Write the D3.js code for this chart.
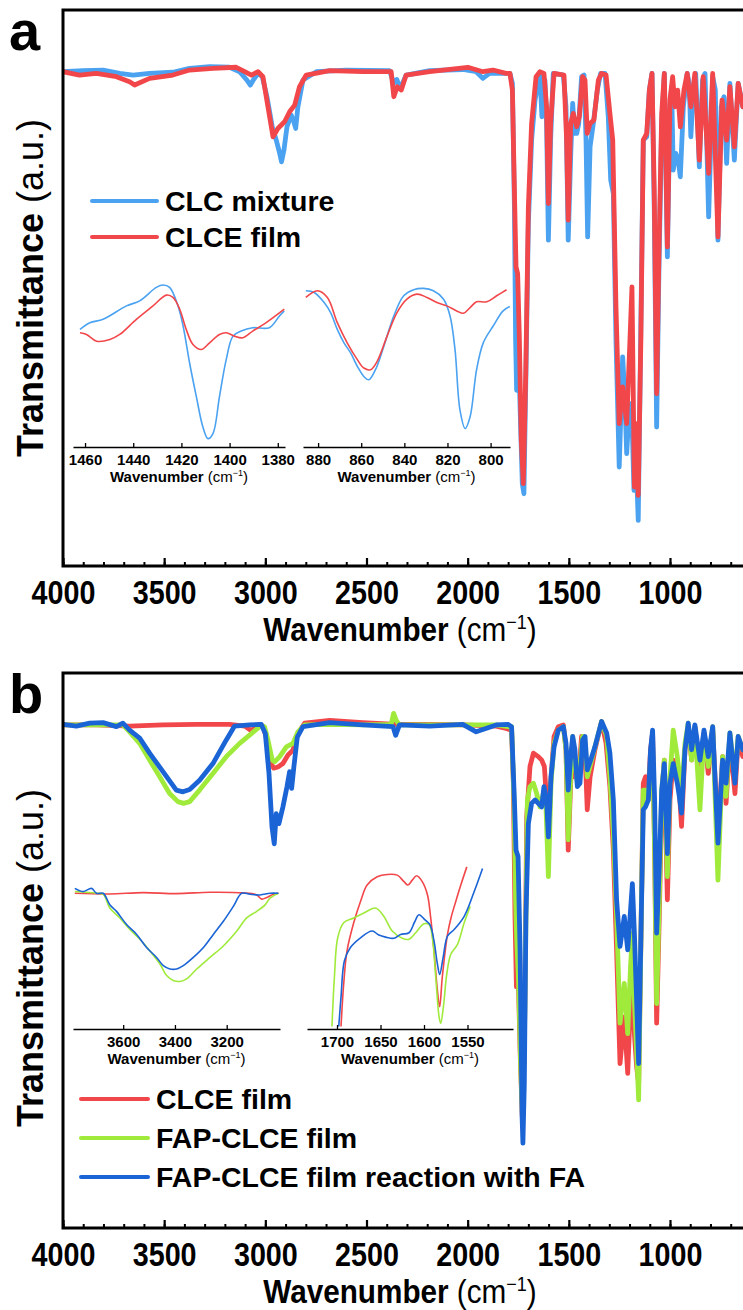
<!DOCTYPE html>
<html>
<head>
<meta charset="utf-8">
<script src="https://cdn.jsdelivr.net/npm/d3@7"></script>
<style>
body{margin:0;background:#fff;}
svg{display:block;}
text{font-family:"Liberation Sans",Arial,sans-serif;fill:#000;}
</style>
</head>
<body>
<script>
// ---- data (wavenumber cm-1, transmittance a.u.) ----
var mainTicks = [4000, 3500, 3000, 2500, 2000, 1500, 1000];

var aMixture = [[4000,88.9],[3901,89.1],[3802,89.2],[3720,88.6],[3654,88.3],[3572,88.6],[3457,88.8],[3374,89.5],[3275,89.8],[3177,89.7],[3127,88.9],[3091,87.4],[3074,86.5],[3058,87.5],[3036,88.6],[3015,88],[2992,84.4],[2966,79],[2946,76.6],[2929,74.2],[2920,72.7],[2908,74.8],[2893,79],[2872,81.1],[2859,79.9],[2850,78.7],[2839,82.6],[2814,87.4],[2748,88.9],[2600,89.2],[2386,89.1],[2365,86.8],[2350,87.5],[2333,85.9],[2304,88.3],[2188,89.1],[2024,89.3],[1958,88.9],[1925,87.7],[1892,88.6],[1810,88.6],[1791,88.6],[1779,86.8],[1769,64.6],[1763,40.6],[1758,31.6],[1751,42.4],[1741,28.6],[1730,14.8],[1722,13],[1712,34.6],[1700,61.6],[1684,76.6],[1667,83.8],[1643,88.6],[1633,80.8],[1618,87.4],[1610,79.6],[1601,58.6],[1590,76.6],[1577,88.6],[1527,88.3],[1514,82.6],[1503,58.6],[1491,73.6],[1481,83.2],[1471,77.8],[1461,77.8],[1451,79.6],[1437,88],[1425,88.3],[1415,76.6],[1407,59.2],[1395,75.4],[1379,79.6],[1359,85.6],[1343,88.6],[1321,88.6],[1305,80.8],[1293,69.4],[1280,67],[1267,40.6],[1251,17.8],[1234,37.6],[1224,31],[1214,20.2],[1201,28.6],[1190,29.2],[1178,13.6],[1168,19.6],[1157,8.2],[1145,40.6],[1132,76.6],[1115,77.2],[1102,85.6],[1089,88.6],[1078,64.6],[1066,25],[1055,52.6],[1041,79.6],[1028,88.6],[1013,55.6],[1000,82.6],[992,86.2],[984,71.2],[971,74.2],[959,73],[949,70],[934,82.6],[915,88.6],[905,86.8],[897,77.2],[885,85.6],[873,88.6],[855,71.8],[839,87.4],[827,88.6],[809,62.8],[789,88],[776,85.6],[763,58.6],[747,82.6],[733,84.4],[720,72.4],[704,86.8],[682,73],[663,86.8],[640,82.6],[610,85]];

var aFilm = [[4000,88.9],[3918,88.3],[3835,88.6],[3736,88],[3671,87.1],[3646,86.5],[3572,87.7],[3457,88.3],[3374,89.2],[3259,89.5],[3144,89.7],[3102,88.9],[3069,88.3],[3036,88.9],[3012,88],[2987,82.6],[2962,77.2],[2938,78.7],[2905,79.9],[2880,81.7],[2855,82.9],[2831,86.2],[2798,88.3],[2682,89.1],[2518,88.9],[2378,88.9],[2365,84.4],[2348,86.2],[2328,85.6],[2304,88.3],[2188,88.9],[1999,89.7],[1925,88.9],[1875,89.2],[1810,88.6],[1791,88.6],[1779,85.6],[1769,67.6],[1761,53.8],[1753,52.6],[1745,41.8],[1735,22.6],[1725,14.8],[1713,34.6],[1700,64.6],[1684,79.6],[1662,88],[1643,88.9],[1623,88.6],[1610,82.6],[1601,65.2],[1590,79.6],[1573,88.6],[1524,88.3],[1511,76.6],[1503,62.2],[1491,79.6],[1478,81.4],[1461,79],[1448,80.8],[1432,88],[1420,87.4],[1409,77.8],[1395,79.6],[1376,80.2],[1354,87.4],[1338,88.6],[1316,88.3],[1297,81.4],[1283,76.6],[1267,46.6],[1251,25.6],[1234,32.2],[1214,25.6],[1198,40.6],[1188,50.2],[1176,14.2],[1168,25.6],[1157,12.7],[1144,40.6],[1132,76.6],[1115,77.8],[1102,85.6],[1089,88.6],[1078,67.6],[1066,31],[1055,55.6],[1041,81.4],[1028,88.6],[1013,57.4],[1000,83.8],[987,88],[975,82.6],[962,85.6],[949,79],[931,85.6],[915,88.6],[897,82.6],[877,88.6],[855,73],[836,88],[809,70.6],[789,88.6],[763,59.2],[743,83.8],[720,76.6],[704,86.2],[682,75.4],[663,86.8],[640,82.6],[610,86]];

var bFilm = [[4000,91],[3835,91],[3671,90.8],[3506,91],[3341,91.1],[3177,91.1],[3102,90.8],[3069,90],[3036,91],[3012,90.8],[2992,88.4],[2971,84.3],[2959,83.5],[2938,83.7],[2913,84.3],[2888,85.8],[2864,86.6],[2839,89.5],[2806,91.3],[2682,91.8],[2518,91.4],[2353,91.1],[2188,91.1],[2024,91],[1859,90.8],[1810,90.4],[1783,90.1],[1774,80.9],[1766,57.8],[1759,45.6],[1751,49.1],[1741,34.6],[1730,23.1],[1720,34.6],[1708,75.1],[1692,83.8],[1675,86.1],[1651,85.5],[1634,84.9],[1621,83.8],[1610,78],[1601,69.9],[1590,80.9],[1573,89],[1552,90.7],[1527,91],[1514,86.7],[1503,69.3],[1491,80.9],[1481,88.4],[1471,82],[1461,83.2],[1451,82],[1437,89],[1425,88.4],[1415,82],[1409,76.3],[1395,82],[1371,86.7],[1338,91.6],[1316,87.8],[1297,80.3],[1280,69.3],[1264,52],[1247,32.3],[1226,40.4],[1209,30.6],[1195,43.3],[1186,46.2],[1176,37.5],[1165,31.8],[1155,28.9],[1142,57.8],[1132,80.9],[1121,82],[1107,79.7],[1096,86.7],[1086,89.6],[1076,69.3],[1066,39.3],[1053,57.8],[1041,78],[1028,84.9],[1013,60.7],[1000,78],[984,84.9],[964,82],[954,79.7],[943,73.4],[926,86.7],[910,90.7],[893,84.9],[877,90.7],[852,82.6],[832,89.6],[811,82.6],[789,90.1],[763,71.6],[740,85.5],[723,77.4],[704,88.4],[679,79.1],[663,88.4],[640,85.5],[610,87]];

var bFapFilm = [[4000,91],[3835,91],[3704,91],[3671,89.8],[3621,87.8],[3572,84.9],[3522,82],[3473,79.1],[3432,77.7],[3404,77.4],[3374,77.7],[3325,79.7],[3259,82.6],[3193,85.5],[3127,87.8],[3069,89.5],[3028,90.7],[3004,90.7],[2987,88.4],[2966,84.9],[2954,84.6],[2929,85.5],[2896,87.2],[2864,87.8],[2839,89.8],[2806,91],[2682,91.1],[2518,91],[2378,91.1],[2366,93],[2353,91.8],[2337,91],[2188,91],[2024,91],[1859,91],[1801,90.7],[1783,90.7],[1771,78],[1763,60.7],[1758,54.3],[1748,46.2],[1738,31.8],[1728,21.9],[1718,40.4],[1705,78],[1692,80.3],[1675,80.9],[1659,79.1],[1643,76.8],[1626,79.1],[1613,76.8],[1601,64.7],[1588,80.9],[1573,87.8],[1552,90.1],[1527,90.7],[1514,86.7],[1503,71.1],[1491,82],[1481,89],[1470,84.9],[1458,80.9],[1445,83.8],[1432,89],[1420,87.8],[1409,82],[1392,84.3],[1371,87.2],[1338,91.6],[1313,89],[1297,82],[1280,72.2],[1264,57.8],[1247,39.3],[1226,46.2],[1209,37.5],[1195,49.1],[1186,54.9],[1176,43.3],[1165,34.6],[1155,26],[1142,57.8],[1132,79.7],[1121,79.7],[1107,78],[1096,84.9],[1086,87.8],[1076,69.3],[1066,42.7],[1053,60.7],[1041,79.7],[1028,84.9],[1013,64.7],[1000,82],[984,90.1],[964,85.5],[943,79.1],[926,87.8],[910,91.3],[893,84.9],[877,90.7],[852,76.3],[832,89.6],[811,83.8],[789,90.7],[763,64.1],[740,85.5],[723,78.6],[704,89.6],[679,82],[663,89],[640,86.7],[610,88]];

var bReacted = [[4000,91.1],[3934,90.8],[3868,91.3],[3802,91.4],[3736,90.7],[3704,91.3],[3671,90.1],[3621,88.7],[3572,86.1],[3506,82.9],[3440,79.7],[3407,79.4],[3374,79.8],[3325,81.4],[3259,84.3],[3193,88.4],[3152,90.8],[3078,91],[3020,91.1],[3000,89.5],[2982,82.6],[2967,73.3],[2956,70.4],[2946,75.6],[2933,73.9],[2913,76.8],[2893,80.3],[2880,82.9],[2870,80],[2859,83.7],[2842,88.9],[2814,90.7],[2682,91.4],[2518,91],[2369,90.7],[2356,89.2],[2337,91],[2188,90.8],[2024,91.1],[1958,89.8],[1859,91],[1801,91.1],[1783,90.7],[1769,78],[1761,69.3],[1751,68.2],[1741,52],[1731,23.1],[1727,18.5],[1720,28.9],[1712,57.8],[1700,73.9],[1684,77.4],[1667,78],[1651,77.4],[1634,76.8],[1623,80.3],[1610,78],[1601,71.6],[1588,82],[1573,87.2],[1552,90.1],[1527,90.7],[1514,87.8],[1503,79.7],[1491,85.5],[1481,89],[1470,86.7],[1458,80.3],[1445,80.9],[1432,88.4],[1420,89],[1409,83.2],[1392,84.9],[1371,87.2],[1338,91.6],[1313,89.6],[1297,86.1],[1280,78],[1264,60.7],[1247,52.6],[1226,57.8],[1209,52],[1195,58.9],[1186,63.5],[1176,54.9],[1165,43.3],[1155,32.3],[1142,57.8],[1132,76.3],[1121,76.8],[1107,78],[1096,86.7],[1086,90.1],[1076,78],[1066,54.9],[1053,66.4],[1041,79.7],[1028,84.3],[1013,68.7],[1000,80.9],[984,84.3],[964,80.9],[954,78.6],[943,75.7],[926,86.7],[910,91.3],[893,86.7],[877,91],[852,84.9],[832,90.1],[811,85.5],[789,90.7],[763,70.5],[740,84.9],[723,80.9],[704,89.6],[679,80.9],[663,89],[640,86.7],[610,88]];

// insets
var insetA1Ticks = [1460, 1440, 1420, 1400, 1380];
var insetA1Mixture = [[1462.1,70],[1458,74],[1452.5,76],[1442.8,84],[1437.3,87],[1430.4,95],[1427.6,96.4],[1424.9,95],[1421.4,84],[1419.3,72],[1416.6,50],[1413.8,30],[1411.1,12],[1409,5],[1406.9,8],[1404.2,30],[1401.4,52],[1398.6,66],[1395.2,69],[1390.4,71],[1383.5,71],[1379.3,78],[1377.3,81]];
var insetA1Film = [[1462.1,68],[1459.4,67],[1455.2,63],[1449.7,64],[1445.6,67],[1438.7,76],[1431.8,84],[1426.2,90.4],[1423.5,89],[1420.7,82],[1418,70],[1415.2,61],[1411.7,58],[1408.3,62],[1404.2,67],[1401.4,68],[1398,66],[1394.5,65],[1390.4,69],[1384.8,74],[1377.3,82]];

var insetA2Ticks = [880, 860, 840, 820, 800];
var insetA2Mixture = [[885.7,93],[881.8,92],[877.2,86],[874.2,80],[871.1,70],[868,62],[864.9,56],[861.8,48],[858.8,42],[856.5,40],[853.4,46],[849.5,60],[844.9,78],[840.3,90],[835.7,93.6],[831.1,94.4],[826.5,93],[821.8,88],[818.8,78],[816.5,58],[814.2,22],[811.8,11],[809.5,18],[806.5,46],[803.4,62],[798.8,72],[794.2,81],[791.1,83.6]];
var insetA2Film = [[885.7,89],[880.3,93],[875.7,89],[871.1,74],[866.5,62],[861.8,52],[858.8,47],[855.7,46],[852.6,51],[848,66],[843.4,80],[838.8,88],[834.2,91],[829.5,89],[824.9,86],[820.3,84],[815.7,81],[812.6,79.6],[809.5,83],[806.5,86.4],[801.8,86.4],[797.2,90],[792.6,93.6]];

var insetB1Ticks = [3600, 3400, 3200];
var insetB1Film = [[3787,80.8],[3651.6,80.4],[3522.6,81.2],[3393.6,80.6],[3264.6,81.4],[3135.6,81],[3084,79.8],[3064.6,77.3],[3045,78.3],[3019.5,80.2],[3000,80.8]];
var insetB1FapFilm = [[3787,81.8],[3703,80.8],[3677,80.2],[3651.6,72],[3613,66.1],[3574,59.2],[3535.5,53.4],[3496.8,46.5],[3458,38.7],[3432,31.8],[3406.5,28.9],[3380.7,28.3],[3355,29.8],[3316,35.7],[3264.6,42.6],[3213,49.4],[3161,58.3],[3122.7,66.1],[3084,70],[3051.7,73.9],[3032.4,77.9],[3000,80.8]];
var insetB1Reacted = [[3787,83.7],[3755,81.8],[3722.6,83.7],[3703,80.8],[3677,80.8],[3651.6,73.9],[3625.8,70],[3587,62.2],[3548,56.3],[3509.7,48.5],[3471,42.6],[3445,37.7],[3419.4,35.7],[3393.6,35.7],[3367.8,37.7],[3329,42.6],[3290,48.5],[3251.7,56.3],[3213,64.1],[3174.3,73],[3142,80.8],[3109.8,80.2],[3071,79.8],[3032.4,80.8],[3000,80.8]];

var insetB2Ticks = [1700, 1650, 1600, 1550];
var insetB2Film = [[1695.4,1.5],[1692.3,26.9],[1688.5,46.5],[1680.8,63.2],[1673,75.9],[1665.4,85.7],[1653.8,90.6],[1642.3,92],[1630.8,91.6],[1623,87.7],[1618.5,85.7],[1613.5,88.6],[1608.5,91.2],[1602,87.7],[1596,79.8],[1592.3,66.1],[1588.5,46.5],[1584.6,23],[1582,13.2],[1579,30.8],[1573,56.3],[1569,66.1],[1563.5,75.9],[1557.7,85.7],[1550.8,96.5]];
var insetB2FapFilm = [[1705.8,1.5],[1703,30.8],[1699.2,54.3],[1692.3,63.2],[1680.8,66.1],[1669.2,69],[1655.8,72],[1646.2,67.1],[1636.5,58.3],[1625,54],[1617.3,53.4],[1609.6,57.3],[1600,62.6],[1594.2,62.2],[1590.4,54.3],[1586.5,30.8],[1582.7,7.3],[1580.8,3.4],[1577.7,13.2],[1573.8,32.8],[1569.2,44.5],[1561.5,50.4],[1553.8,63.2],[1546.9,73]];
var insetB2Reacted = [[1698,1.5],[1695.4,19],[1691.5,40.6],[1684.6,48.5],[1673,54.3],[1659.6,58.3],[1651.9,55.9],[1644.2,54.7],[1634.6,54],[1626.9,56.3],[1617.3,57.3],[1610.8,63.7],[1605.8,68],[1599.2,65.1],[1593,61.8],[1588.5,52.4],[1584.6,38.7],[1582,32.4],[1578,42.6],[1573,55.3],[1565.4,59.2],[1553.8,67.1],[1542.3,81.8],[1532.7,95.5]];

var legendA = ['CLC mixture', 'CLCE film'];
var legendB = ['CLCE film', 'FAP-CLCE film', 'FAP-CLCE film reaction with FA'];

// ---- colours ----
var cBlueA = '#4aa2f0', cRed = '#f2474a', cGreen = '#a0ea3c', cBlueB = '#1b64d6';

var svg = d3.select('body').append('svg').attr('width', 743).attr('height', 1310);

// shared wavenumber axis (plot is cropped on the right)
var x = d3.scaleLinear().domain([4000, 400]).range([63, 63 + 3600 * 607 / 3000]);

var panels = [
  {
    label: 'a', top: 10, bottom: 566, yDomain: [0, 100], yLabelMid: 288,
    series: [{data: aMixture, color: cBlueA}, {data: aFilm, color: cRed}],
    legend: {names: legendA, colors: [cBlueA, cRed], x1: 92, x2: 157, y0: 201, dy: 36},
    insets: [
      {domain: [1465, 1377], range: [73, 285], axisY: 447, ticks: insetA1Ticks,
       series: [{data: insetA1Mixture, color: cBlueA}, {data: insetA1Film, color: cRed}]},
      {domain: [887, 791], range: [303, 510], axisY: 447, ticks: insetA2Ticks,
       series: [{data: insetA2Mixture, color: cBlueA}, {data: insetA2Film, color: cRed}]}
    ]
  },
  {
    label: 'b', top: 673, bottom: 1228, yDomain: [3.8, 100], yLabelMid: 958,
    series: [{data: bFilm, color: cRed}, {data: bFapFilm, color: cGreen}, {data: bReacted, color: cBlueB}],
    legend: {names: legendB, colors: [cRed, cGreen, cBlueB], x1: 81, x2: 148, y0: 1099, dy: 39},
    insets: [
      {domain: [3794, 2994], range: [73, 280], axisY: 1029, ticks: insetB1Ticks,
       series: [{data: insetB1Film, color: cRed}, {data: insetB1FapFilm, color: cGreen}, {data: insetB1Reacted, color: cBlueB}]},
      {domain: [1734.5, 1497.7], range: [307, 513], axisY: 1029, ticks: insetB2Ticks,
       series: [{data: insetB2Film, color: cRed}, {data: insetB2FapFilm, color: cGreen}, {data: insetB2Reacted, color: cBlueB}]}
    ]
  }
];

function wavenumberTitle(sel, size, supSize, supShift) {
  sel.append('tspan').attr('font-weight', 'bold').text('Wavenumber');
  sel.append('tspan').attr('font-weight', 'normal').text(' (cm');
  sel.append('tspan').attr('font-weight', 'normal').attr('font-size', supSize).attr('dy', -supShift).text('\u22121');
  sel.append('tspan').attr('font-weight', 'normal').attr('font-size', size).attr('dy', supShift).text(')');
}

function drawInset(g, ins) {
  var xi = d3.scaleLinear().domain(ins.domain).range(ins.range);
  var yi = d3.scaleLinear().domain([0, 100]).range([ins.axisY, ins.axisY - 168]);
  var line = d3.line().x(function(d){ return xi(d[0]); }).y(function(d){ return yi(d[1]); })
               .curve(d3.curveCatmullRom.alpha(0.5));
  ins.series.forEach(function(s){
    g.append('path').datum(s.data)
      .attr('d', line)
      .attr('fill', 'none')
      .attr('stroke', s.color)
      .attr('stroke-width', 1.6);
  });
  var ax = g.append('g').attr('transform', 'translate(0,' + ins.axisY + ')')
    .call(d3.axisBottom(xi).tickValues(ins.ticks).tickSize(-4).tickSizeOuter(0).tickFormat(d3.format('d')));
  ax.select('.domain').attr('stroke', '#000').attr('stroke-width', 1.5);
  ax.selectAll('.tick line').attr('stroke', '#000').attr('stroke-width', 1.3);
  ax.selectAll('.tick text')
    .attr('y', 18).attr('dy', 0)
    .attr('font-size', 15).attr('font-weight', 'bold')
    .attr('font-family', '"Liberation Sans", Arial, sans-serif');
  var t = g.append('text')
    .attr('x', (ins.range[0] + ins.range[1]) / 2)
    .attr('y', ins.axisY + 35)
    .attr('text-anchor', 'middle')
    .attr('font-size', 15);
  wavenumberTitle(t, 15, 9, 6);
}

function drawPanel(p) {
  var g = svg.append('g');
  var y = d3.scaleLinear().domain(p.yDomain).range([p.bottom, p.top]);

  var clipId = 'clip-' + p.label;
  svg.append('clipPath').attr('id', clipId).append('rect')
    .attr('x', 63).attr('y', p.top).attr('width', 743 - 63).attr('height', p.bottom - p.top);

  var line = d3.line().x(function(d){ return x(d[0]); }).y(function(d){ return y(d[1]); });
  p.series.forEach(function(s){
    g.append('path').datum(s.data)
      .attr('clip-path', 'url(#' + clipId + ')')
      .attr('d', line)
      .attr('fill', 'none')
      .attr('stroke', s.color)
      .attr('stroke-width', 4.8)
      .attr('stroke-linejoin', 'round')
      .attr('stroke-linecap', 'round');
  });

  p.insets.forEach(function(ins){ drawInset(g, ins); });

  // legend
  var lg = p.legend;
  lg.names.forEach(function(name, i){
    var ly = lg.y0 + i * lg.dy;
    g.append('line')
      .attr('x1', lg.x1).attr('x2', lg.x2).attr('y1', ly).attr('y2', ly)
      .attr('stroke', lg.colors[i]).attr('stroke-width', 4).attr('stroke-linecap', 'round');
    g.append('text')
      .attr('x', lg.x2 + 8).attr('y', ly + 10)
      .attr('font-size', 28.5).attr('font-weight', 'bold')
      .text(name);
  });

  // bottom axis: minor and major ticks, pointing in
  var minor = g.append('g').attr('transform', 'translate(0,' + p.bottom + ')')
    .call(d3.axisBottom(x).tickValues(d3.range(4000, 399, -100)).tickSize(-4).tickFormat(''));
  minor.select('.domain').remove();
  minor.selectAll('.tick line').attr('stroke', '#000').attr('stroke-width', 2);

  var major = g.append('g').attr('transform', 'translate(0,' + p.bottom + ')')
    .call(d3.axisBottom(x).tickValues(mainTicks).tickSize(-8).tickFormat(d3.format('d')));
  major.select('.domain').remove();
  major.selectAll('.tick line').attr('stroke', '#000').attr('stroke-width', 2.2);
  major.selectAll('.tick text')
    .attr('y', 38).attr('dy', 0)
    .attr('font-size', 33).attr('font-weight', 'bold')
    .attr('font-family', '"Liberation Sans", Arial, sans-serif')
    .attr('transform', 'scale(0.87,1)');

  // frame (right side cropped away)
  g.append('path')
    .attr('d', 'M743,' + p.top + 'H63V' + p.bottom + 'H743')
    .attr('fill', 'none').attr('stroke', '#000').attr('stroke-width', 3);

  // axis titles
  var xt = g.append('g').attr('transform', 'translate(400,' + (p.bottom + 75) + ') scale(0.9,1)')
    .append('text').attr('text-anchor', 'middle').attr('font-size', 33);
  wavenumberTitle(xt, 33, 20, 12);

  var yt = g.append('text')
    .attr('transform', 'translate(43,' + p.yLabelMid + ') rotate(-90)')
    .attr('text-anchor', 'middle')
    .attr('font-size', 36);
  yt.append('tspan').attr('font-weight', 'bold').text('Transmittance');
  yt.append('tspan').attr('font-weight', 'normal').text(' (a.u.)');

  g.append('text')
    .attr('x', 9).attr('y', p.top + 40)
    .attr('font-size', 56).attr('font-weight', 'bold')
    .text(p.label);
}

panels.forEach(drawPanel);
</script>
</body>
</html>
